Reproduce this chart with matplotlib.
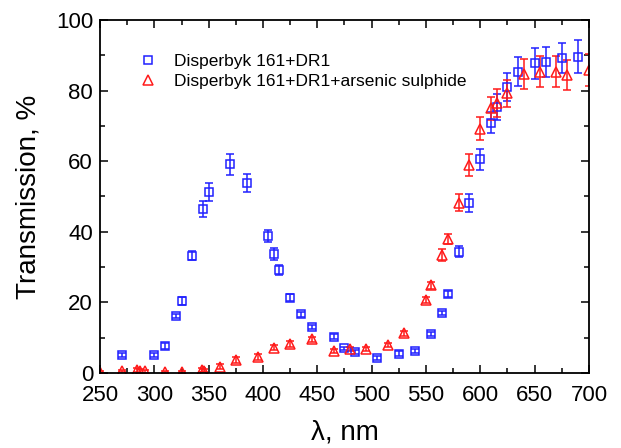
import matplotlib
matplotlib.use("Agg")
import matplotlib.pyplot as plt
from matplotlib.ticker import MultipleLocator

plt.rcParams['font.family'] = ['Liberation Sans', 'DejaVu Sans']

# Disperbyk 161+DR1
wl_dr1 = [270, 300, 310, 320, 325, 335, 345, 350, 370, 385, 405, 410, 415, 425,
          435, 445, 465, 475, 485, 505, 525, 540, 555, 565, 570, 580, 590, 600,
          610, 615, 625, 635, 650, 660, 675, 690]
tr_dr1 = [5.0, 5.1, 7.6, 16.2, 20.4, 33.2, 46.4, 51.2, 59.1, 53.8, 38.8, 33.7,
          29.2, 21.3, 16.6, 13.0, 10.3, 7.0, 5.9, 4.2, 5.5, 6.2, 11.0, 16.9,
          22.3, 34.4, 48.2, 60.5, 70.9, 75.4, 81.1, 85.4, 87.7, 88.1, 89.2, 89.6]
err_dr1 = [0.6, 0.6, 0.8, 0.6, 1.0, 1.3, 2.3, 2.5, 2.9, 2.6, 1.8, 1.6, 1.3, 1.0,
           0.6, 0.6, 0.7, 0.5, 0.5, 0.5, 0.6, 0.6, 0.6, 0.6, 0.9, 1.6, 2.5, 3.0,
           3.0, 3.7, 4.0, 4.2, 4.4, 4.3, 4.3, 4.6]

# Disperbyk 161+DR1+arsenic sulphide
wl_as = [250, 270, 284, 287, 291, 310, 325, 344, 346, 360, 375, 395, 410, 425,
         445, 465, 480, 495, 515, 530, 550, 555, 565, 570, 580, 590, 600, 610,
         615, 625, 640, 655, 670, 680, 700]
tr_as = [0.2, 0.5, 0.8, 0.6, 0.5, 0.4, 0.4, 0.8, 0.7, 1.8, 3.7, 4.6, 7.2, 8.2,
         9.5, 6.2, 6.7, 6.9, 7.9, 11.2, 20.7, 24.9, 33.4, 38.0, 48.2, 58.9,
         69.2, 75.0, 76.4, 79.2, 84.7, 85.4, 85.4, 84.4, 85.8]
err_as = [0.3, 0.3, 0.5, 0.5, 0.4, 0.3, 0.3, 0.5, 0.5, 0.7, 0.8, 0.8, 0.8, 0.8,
          0.8, 0.6, 0.6, 0.6, 0.6, 0.7, 0.8, 1.0, 1.7, 1.4, 2.4, 3.0, 3.3, 3.3,
          4.0, 3.9, 4.2, 4.3, 4.3, 4.3, 4.5]

blue = '#2020ff'
red = '#ff1a1a'

fig = plt.figure(figsize=(6.21, 4.48), dpi=100)
ax = fig.add_axes([100/621, 1 - 373/448, 489/621, 353/448])

ax.errorbar(wl_dr1, tr_dr1, yerr=err_dr1, fmt='none', ecolor=blue,
            elinewidth=1.1, capsize=2.6, capthick=1.1)
ax.errorbar(wl_as, tr_as, yerr=err_as, fmt='none', ecolor=red,
            elinewidth=1.1, capsize=2.6, capthick=1.1)
ax.plot(wl_dr1, tr_dr1, 's', ms=6, mfc='none', mec=blue, mew=1.1,
        label='Disperbyk 161+DR1')
ax.plot(wl_as, tr_as, '^', ms=7, mfc='none', mec=red, mew=1.1,
        label='Disperbyk 161+DR1+arsenic sulphide')

ax.set_xlim(250, 700)
ax.set_ylim(0, 100)
ax.xaxis.set_major_locator(MultipleLocator(50))
ax.xaxis.set_minor_locator(MultipleLocator(25))
ax.yaxis.set_major_locator(MultipleLocator(20))
ax.yaxis.set_minor_locator(MultipleLocator(10))
ax.tick_params(which='both', direction='in', top=True, right=True,
               labelsize=16, width=1.1)
ax.tick_params(which='major', length=6)
ax.tick_params(which='minor', length=3.5)
ax.tick_params(axis='x', which='major', pad=8.5)
ax.tick_params(axis='y', which='major', pad=5)
for s in ax.spines.values():
    s.set_linewidth(1.3)

ax.set_xlabel('λ, nm', fontsize=20, labelpad=10)
ax.set_ylabel('Transmission, %', fontsize=20, labelpad=10)

ax.legend(loc='upper left', bbox_to_anchor=(0.048, 0.948), frameon=False,
          fontsize=12.5, numpoints=1, handlelength=1.0, handletextpad=1.0,
          labelspacing=0.3)

fig.savefig('out.png', dpi=100)
